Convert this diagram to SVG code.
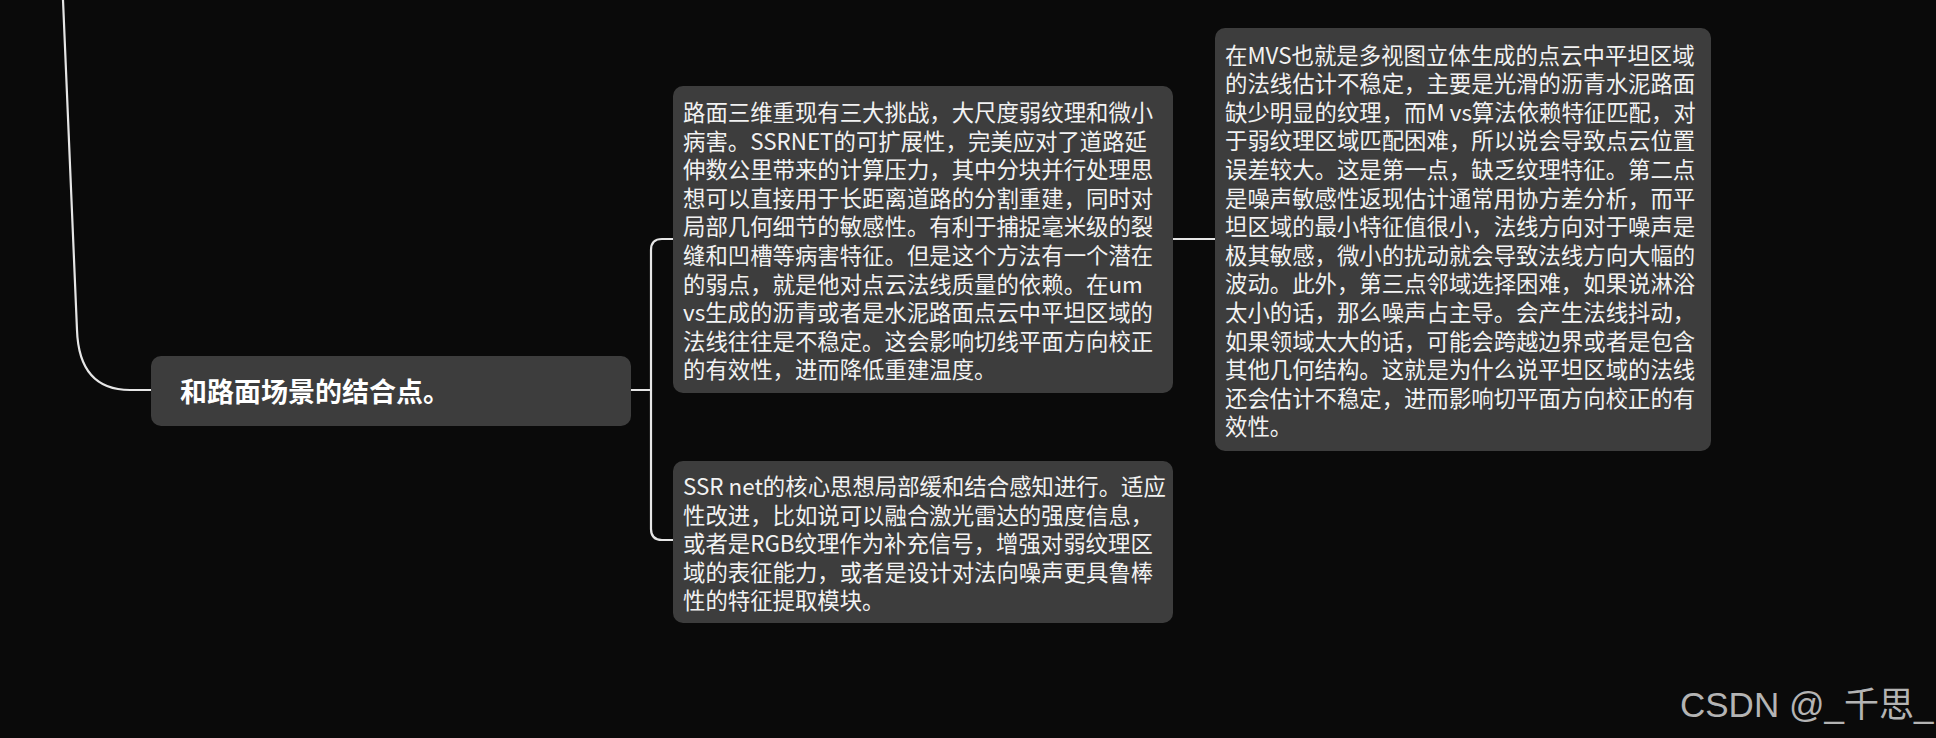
<svg xmlns="http://www.w3.org/2000/svg" width="1936" height="738" viewBox="0 0 1936 738">
<style>
.bg{fill:#0a0a0a}
.box{fill:#3d3d3d}
.line{fill:none;stroke:#e6e6e6;stroke-width:2.2;stroke-linecap:round}
.t{font-family:"Noto Sans CJK SC","Noto Sans",sans-serif;font-size:22.4px;fill:#f2f2f2}
.main{font-family:"Noto Sans CJK SC","Noto Sans",sans-serif;font-size:27px;font-weight:bold;fill:#ffffff}
.wm{font-family:"Liberation Sans","Noto Sans CJK SC",sans-serif;font-size:35px;fill:#b4b4b4}
</style>
<rect class="bg" x="0" y="0" width="1936" height="738"/>
<g id="connectors">
<path class="line" d="M63 0 L77 330 Q79 390 130 390 L151 390"/>
<path class="line" d="M631 390 L651 390"/>
<path class="line" d="M673 239 L662 239 Q651 239 651 250 L651 529 Q651 540 662 540 L673 540"/>
<path class="line" d="M1173 239 L1215 239"/>
</g>
<g id="node-main">
<rect class="box" x="151" y="356" width="480" height="70" rx="10"/>
<text class="main" x="180" y="402">和路面场景的结合点。</text>
</g>
<g id="node-note1">
<rect class="box" x="673" y="86" width="500" height="307" rx="10"/>
<text class="t">
<tspan x="683" y="121">路面三维重现有三大挑战，大尺度弱纹理和微小</tspan>
<tspan x="683" y="149.6">病害。SSRNET的可扩展性，完美应对了道路延</tspan>
<tspan x="683" y="178.2">伸数公里带来的计算压力，其中分块并行处理思</tspan>
<tspan x="683" y="206.8">想可以直接用于长距离道路的分割重建，同时对</tspan>
<tspan x="683" y="235.4">局部几何细节的敏感性。有利于捕捉毫米级的裂</tspan>
<tspan x="683" y="264">缝和凹槽等病害特征。但是这个方法有一个潜在</tspan>
<tspan x="683" y="292.6">的弱点，就是他对点云法线质量的依赖。在um</tspan>
<tspan x="683" y="321.2">vs生成的沥青或者是水泥路面点云中平坦区域的</tspan>
<tspan x="683" y="349.8">法线往往是不稳定。这会影响切线平面方向校正</tspan>
<tspan x="683" y="378.4">的有效性，进而降低重建温度。</tspan>
</text>
</g>
<g id="node-note2">
<rect class="box" x="1215" y="28" width="496" height="423" rx="10"/>
<text class="t">
<tspan x="1225" y="63.5">在MVS也就是多视图立体生成的点云中平坦区域</tspan>
<tspan x="1225" y="92.1">的法线估计不稳定，主要是光滑的沥青水泥路面</tspan>
<tspan x="1225" y="120.7">缺少明显的纹理，而M vs算法依赖特征匹配，对</tspan>
<tspan x="1225" y="149.3">于弱纹理区域匹配困难，所以说会导致点云位置</tspan>
<tspan x="1225" y="177.9">误差较大。这是第一点，缺乏纹理特征。第二点</tspan>
<tspan x="1225" y="206.5">是噪声敏感性返现估计通常用协方差分析，而平</tspan>
<tspan x="1225" y="235.1">坦区域的最小特征值很小，法线方向对于噪声是</tspan>
<tspan x="1225" y="263.7">极其敏感，微小的扰动就会导致法线方向大幅的</tspan>
<tspan x="1225" y="292.3">波动。此外，第三点邻域选择困难，如果说淋浴</tspan>
<tspan x="1225" y="320.9">太小的话，那么噪声占主导。会产生法线抖动，</tspan>
<tspan x="1225" y="349.5">如果领域太大的话，可能会跨越边界或者是包含</tspan>
<tspan x="1225" y="378.1">其他几何结构。这就是为什么说平坦区域的法线</tspan>
<tspan x="1225" y="406.7">还会估计不稳定，进而影响切平面方向校正的有</tspan>
<tspan x="1225" y="435.3">效性。</tspan>
</text>
</g>
<g id="node-note3">
<rect class="box" x="673" y="461" width="500" height="162" rx="10"/>
<text class="t">
<tspan x="683" y="495">SSR net的核心思想局部缓和结合感知进行。适应</tspan>
<tspan x="683" y="523.6">性改进，比如说可以融合激光雷达的强度信息，</tspan>
<tspan x="683" y="552.2">或者是RGB纹理作为补充信号，增强对弱纹理区</tspan>
<tspan x="683" y="580.8">域的表征能力，或者是设计对法向噪声更具鲁棒</tspan>
<tspan x="683" y="609.4">性的特征提取模块。</tspan>
</text>
</g>
<text class="wm" x="1680" y="717">CSDN @_千思_</text>
</svg>
